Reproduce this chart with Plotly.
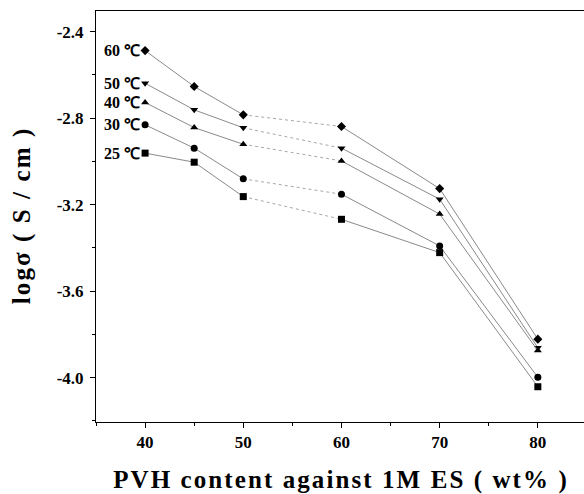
import plotly.graph_objects as go

x_vals = [40, 45, 50, 60, 70, 80]
series_names = ["60 ℃", "50 ℃", "40 ℃", "30 ℃", "25 ℃"]
series_vals = {
    "60 ℃": [-2.488, -2.654, -2.785, -2.839, -3.126, -3.822],
    "50 ℃": [-2.639, -2.762, -2.845, -2.939, -3.175, -3.862],
    "40 ℃": [-2.728, -2.844, -2.921, -2.998, -3.244, -3.875],
    "30 ℃": [-2.831, -2.939, -3.081, -3.152, -3.391, -3.998],
    "25 ℃": [-2.962, -3.004, -3.163, -3.268, -3.422, -4.042],
}
symbols = {"60 ℃": "diamond", "50 ℃": "triangle-down", "40 ℃": "triangle-up",
           "30 ℃": "circle", "25 ℃": "square"}
x_ticks = [40, 50, 60, 70, 80]
y_ticks = [-2.4, -2.8, -3.2, -3.6, -4.0]
y_ticklabels = ["-2.4", "-2.8", "-3.2", "-3.6", "-4.0"]
x_title = "PVH content against 1M ES ( wt% )"
y_title = "logσ ( S / cm )"

FONT = "Liberation Serif"
HS = "\u200a"


def spaced(s):
    return HS.join(list(s))


fig = go.Figure()
segments = [((0, 3), "solid", "#8a8a8a"), ((2, 4), "dot", "#a8a8a8"), ((3, 6), "solid", "#8a8a8a")]
for name in series_names:
    ys = series_vals[name]
    for (a, b), dash, col in segments:
        fig.add_trace(go.Scatter(x=x_vals[a:b], y=ys[a:b], mode="lines",
                                 line=dict(color=col, width=1, dash=dash),
                                 showlegend=False, hoverinfo="skip"))
    fig.add_trace(go.Scatter(x=x_vals, y=ys, mode="markers",
                             marker=dict(symbol=symbols[name], color="black", size=7),
                             showlegend=False, name=name))
    fig.add_annotation(x=x_vals[0], y=ys[0], text="<b>" + name + "</b>", showarrow=False,
                       xanchor="right", yanchor="middle", xshift=-3,
                       font=dict(family=FONT, size=16, color="black"))

axis_common = dict(showline=True, linecolor="black", linewidth=1, ticks="outside",
                   ticklen=5, tickcolor="black", showgrid=False, zeroline=False)
fig.update_xaxes(range=[35, 84.7], tickvals=x_ticks, ticktext=["<b>%d</b>" % v for v in x_ticks],
                 mirror=True, minor=dict(dtick=5, tick0=35, ticklen=3, ticks="outside", tickcolor="black"),
                 tickfont=dict(family=FONT, size=17, color="black"),
                 title=dict(text="<b>" + spaced(x_title) + "</b>",
                            font=dict(family=FONT, size=25, color="black"), standoff=22),
                 **axis_common)
fig.update_yaxes(range=[-4.205, -2.305], tickvals=y_ticks,
                 ticktext=["<b>%s</b>" % t for t in y_ticklabels],
                 minor=dict(dtick=0.2, tick0=-2.4, ticklen=3, ticks="outside", tickcolor="black"),
                 tickfont=dict(family=FONT, size=17, color="black"), ticklabelstandoff=3,
                 title=dict(text="<b>" + spaced(y_title) + "</b>",
                            font=dict(family=FONT, size=25, color="black"), standoff=18),
                 **axis_common)
fig.update_layout(width=584, height=494, margin=dict(l=96, r=0, t=11, b=72),
                  plot_bgcolor="white", paper_bgcolor="white")
fig.write_html("out.html")
